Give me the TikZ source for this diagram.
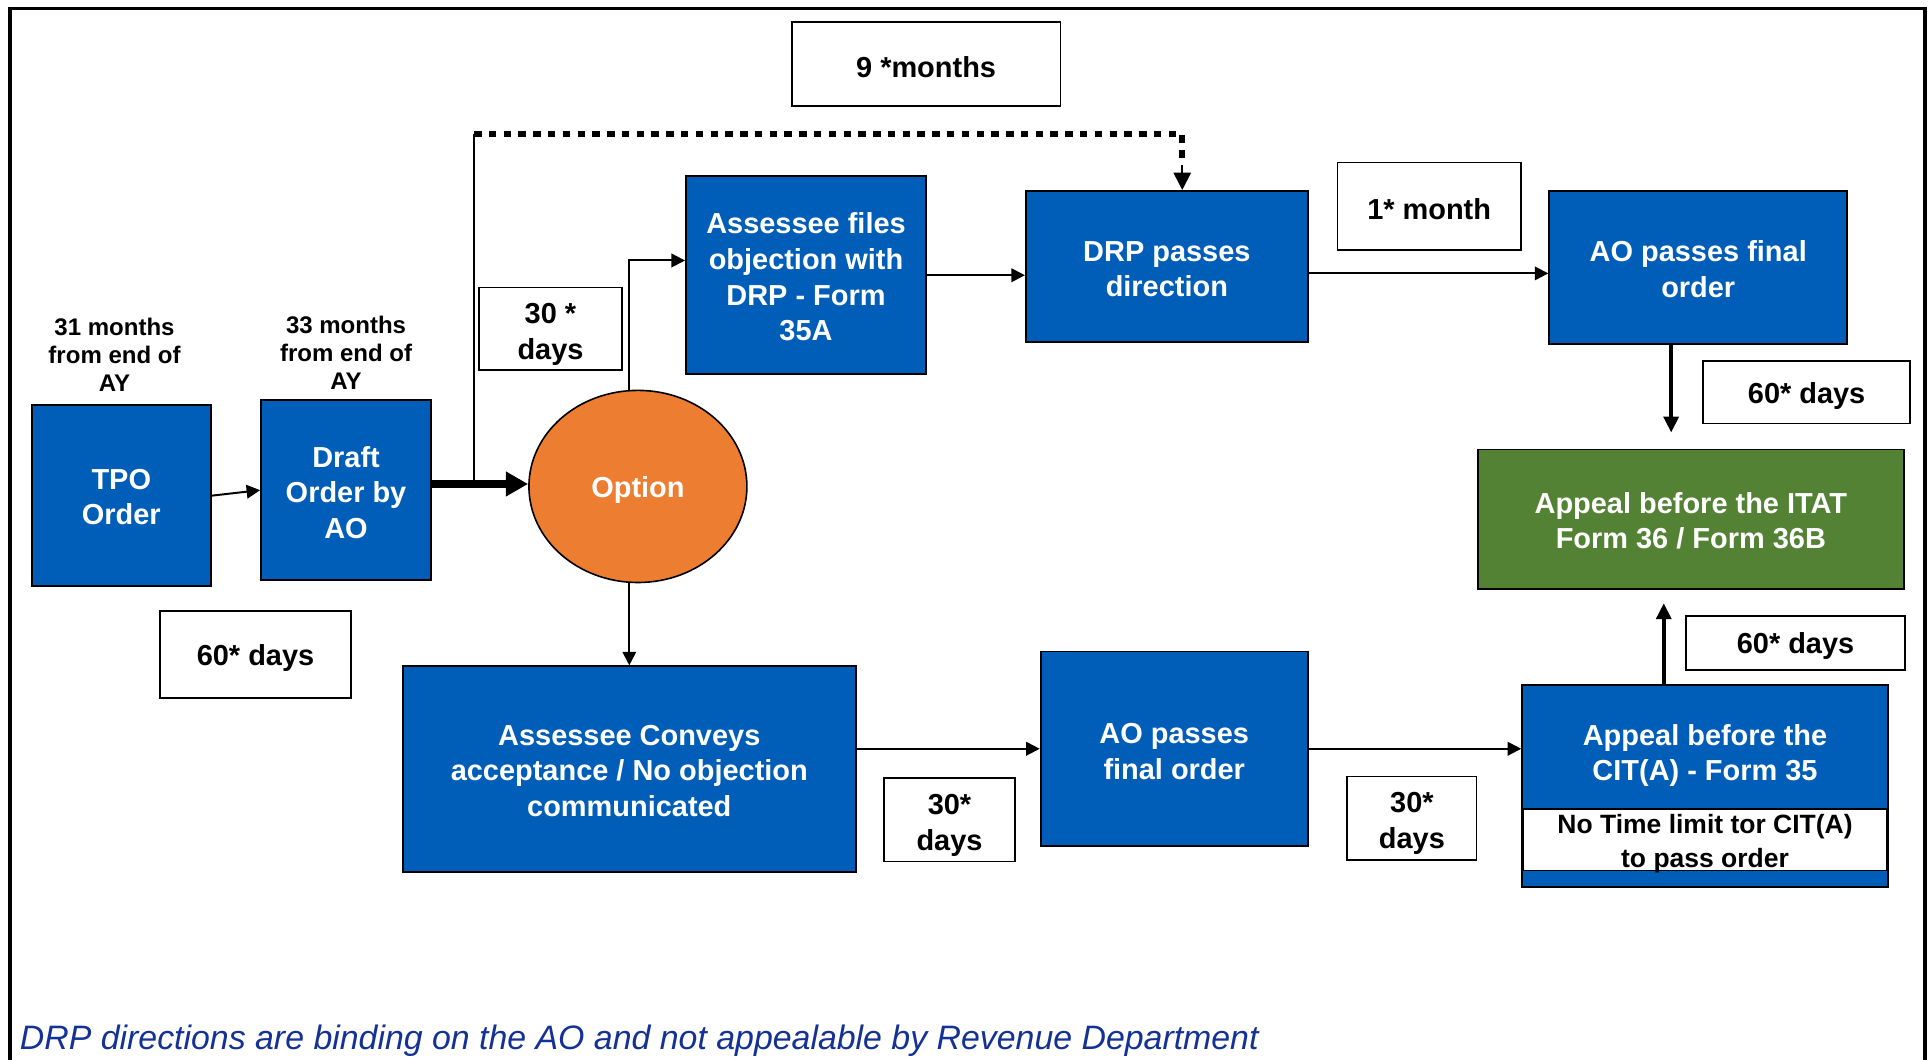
\documentclass[tikz,border=0pt]{standalone}
\usepackage{fontspec}
\setmainfont{Liberation Sans}
\usetikzlibrary{arrows.meta,shapes.geometric}
\definecolor{boxblue}{RGB}{0,94,184}
\definecolor{optorange}{RGB}{237,125,49}
\definecolor{itatgreen}{RGB}{84,130,53}
\definecolor{notecolor}{RGB}{20,50,150}
\begin{document}
\begin{tikzpicture}[x=1pt,y=-1pt,
  bluebox/.style={draw=black,line width=1.5pt,fill=boxblue,inner sep=0pt},
  greenbox/.style={bluebox,fill=itatgreen},
  optnode/.style={ellipse,draw=black,line width=1.3pt,fill=optorange,text=white,
    font=\bfseries\fontsize{23.5}{29}\selectfont,inner sep=0pt,text height=23pt},
  timebox/.style={draw=black,line width=1.3pt,fill=white,inner sep=0pt},
  singlebox/.style={timebox,text=black,font=\bfseries\fontsize{23.5}{29}\selectfont,text height=22.5pt},
  btext/.style={text=black,font=\bfseries\fontsize{23.5}{29}\selectfont,align=center,inner sep=0pt},
  notetext/.style={btext,font=\bfseries\fontsize{21.5}{27}\selectfont},
  toplabel/.style={text=black,font=\bfseries\fontsize{19.5}{23}\selectfont,align=center,inner sep=0pt},
  wtext/.style={text=white,font=\bfseries\fontsize{23.5}{29}\selectfont,align=center,inner sep=0pt},
  thinarrow/.style={draw=black,line width=1.6pt,-{Triangle[length=11pt,width=11pt]}},
  thinline/.style={draw=black,line width=1.6pt},
  thickarrow/.style={draw=black,line width=6pt,-{Triangle[length=18pt,width=19pt]}},
  vthickarrow/.style={draw=black,line width=3.5pt,-{Triangle[length=13pt,width=12pt]}},
  dotline/.style={draw=black,line width=4.5pt,dash pattern=on 6pt off 6pt},
  tiparrow/.style={draw=black,line width=1.6pt,-{Triangle[length=14pt,width=14pt]}}
]
\useasboundingbox (0,0) rectangle (1568,860);
\fill[white] (0,0) rectangle (1568,860);
% outer frame
\draw[line width=3pt] (8,880) -- (8,7) -- (1563,7) -- (1563,880);

% main boxes
\node[bluebox,minimum width=145pt,minimum height=147pt] (tpo) at (98.5,402.5) {};
\node[wtext] (tpotxt) at ([yshift=-1pt]tpo.center) {TPO\\Order};
\node[bluebox,minimum width=138pt,minimum height=146pt] (draft) at (281,398) {};
\node[wtext] (drafttxt) at ([yshift=-2pt]draft.center) {Draft\\Order by\\AO};
\node[optnode,minimum width=177pt,minimum height=156pt] (option) at (518,395) {Option};
\node[bluebox,minimum width=195pt,minimum height=161pt] (files) at (654.5,223.5) {};
\node[wtext] (filestxt) at ([yshift=-1.5pt]files.center) {Assessee files\\objection with\\DRP - Form\\35A};
\node[bluebox,minimum width=229pt,minimum height=123pt] (drp) at (947.5,216.5) {};
\node[wtext] (drptxt) at ([yshift=-2pt]drp.center) {DRP passes\\direction};
\node[bluebox,minimum width=242pt,minimum height=124pt] (aofa) at (1379,217) {};
\node[wtext] (aofatxt) at ([yshift=-1.5pt]aofa.center) {AO passes final\\order};
\node[greenbox,minimum width=346pt,minimum height=113pt] (itat) at (1373,421.5) {};
\node[wtext] (itattxt) at ([yshift=-1.5pt]itat.center) {Appeal before the ITAT\\Form 36 / Form 36B};
\node[bluebox,minimum width=368pt,minimum height=167pt] (conv) at (511,624.5) {};
\node[wtext] (convtxt) at ([yshift=-1.5pt]conv.center) {Assessee Conveys\\acceptance / No objection\\communicated};
\node[bluebox,minimum width=217pt,minimum height=158pt] (aofb) at (953.5,608) {};
\node[wtext] (aofbtxt) at (953.5,610.5) {AO passes\\final order};
\node[bluebox,minimum width=297pt,minimum height=164pt] (cit) at (1384.5,638) {};
\node[wtext] (cittxt) at (1384.5,613.5) {Appeal before the\\CIT(A) - Form 35};
\node[timebox,minimum width=295pt,minimum height=50pt] (citnote) at (1384.5,682) {};
\node[notetext] (citnotetxt) at ([yshift=-3pt]citnote.center) {No Time limit tor CIT(A)\\to pass order};

% labels above
\node[toplabel] (l31) at (93,288) {31 months\\from end of\\AY};
\node[toplabel] (l33) at (281,286.5) {33 months\\from end of\\AY};

% time boxes
\node[singlebox,minimum width=218pt,minimum height=68pt] (t9) at (752,52) {9 *months};
\node[singlebox,minimum width=149pt,minimum height=71pt] (t1m) at (1160.5,167.5) {1* month};
\node[singlebox,minimum width=168pt,minimum height=51pt] (t60a) at (1467,318.5) {60* days};
\node[timebox,minimum width=116pt,minimum height=67pt] (t30a) at (447,267) {};
\node[btext] (t30atxt) at ([yshift=-4.5pt]t30a.center) {30 *\\days};
\node[singlebox,minimum width=155pt,minimum height=71pt] (t60b) at (207.5,531.5) {60* days};
\node[timebox,minimum width=106pt,minimum height=68pt] (t30b) at (771,665.5) {};
\node[btext] (t30btxt) at ([yshift=-4.5pt]t30b.center) {30*\\days};
\node[timebox,minimum width=105pt,minimum height=68pt] (t30c) at (1146.5,664.5) {};
\node[btext] (t30ctxt) at ([yshift=-4pt]t30c.center) {30*\\days};
\node[singlebox,minimum width=178pt,minimum height=44pt] (t60c) at (1458,522) {60* days};

% footnote
\node[anchor=base west,inner sep=0pt,text=notecolor,font=\itshape\fontsize{27.5}{32}\selectfont] (foot) at (16,852) {DRP directions are binding on the AO and not appealable by Revenue Department};

% connectors
\draw[thinarrow] (tpo.east) -- (draft.west);
\draw[thickarrow] ([yshift=2pt]draft.east |- option.west) -- ([yshift=2pt]option.west);
\coordinate (jn) at (385,393);
\coordinate (dtop) at (385,109);
\draw[thinline] (jn) -- (dtop);
\draw[dotline] (dtop) -- (960,109) -- (960,128);
\draw[tiparrow] (960,134) -- ([xshift=12.5pt]drp.north);
\draw[thinarrow] ([xshift=-7pt]option.north) |- ([yshift=12pt]files.west);
\draw[thinarrow] (files.east) -- (files.east -| drp.west);
\draw[thinarrow] ([yshift=-5.5pt]drp.east) -- ([yshift=-5.5pt]drp.east -| aofa.west);
\coordinate (itattop) at ([xshift=-16pt,yshift=13pt]itat.north);
\draw[vthickarrow] (aofa.south -| itattop) -- (itattop);
\draw[thinarrow] (conv.north |- option.south) -- (conv.north);
\draw[thinarrow] (conv.east |- aofb.west) -- (aofb.west);
\draw[thinarrow] (aofb.east) -- (aofb.east -| cit.west);
\coordinate (itatbot) at ([xshift=-22pt,yshift=-11pt]itat.south);
\draw[vthickarrow] (cit.north -| itatbot) -- (itatbot);
\end{tikzpicture}
\end{document}
